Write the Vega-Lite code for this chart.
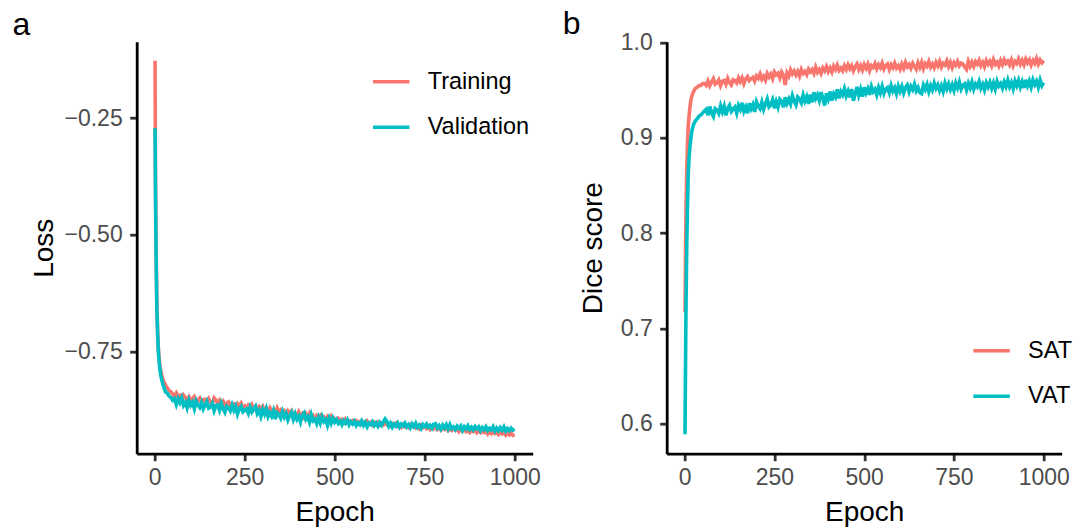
{
"$schema": "https://vega.github.io/schema/vega-lite/v6.json",
"padding": {"left": 11.7, "top": 7.7, "right": 0, "bottom": 0},
"bounds": "flush",
"spacing": 134,
"background": "white",
"config": {
 "view": {"stroke": null},
 "font": "Liberation Sans",
 "axis": {"grid": false, "domainColor": "#000000", "domainWidth": 2.8, "tickColor": "#333333", "tickWidth": 2.8, "tickSize": 7, "labelFont": "Liberation Sans", "labelFontSize": 23, "labelColor": "#4D4D4D", "titleFont": "Liberation Sans", "titleFontSize": 28, "titleFontWeight": "normal", "titleColor": "#000000", "labelFlush": false, "labelOverlap": false},
 "axisX": {"labelPadding": 6, "titleBaseline": "alphabetic", "titleAlign": "center"},
 "axisY": {"labelPadding": 7.5, "titleBaseline": "alphabetic", "titleAlign": "center", "titleAngle": -90},
 "line": {"strokeWidth": 3.6},
 "legend": {"labelFont": "Liberation Sans", "labelFontSize": 23.5, "labelColor": "#000000", "symbolType": "stroke", "symbolSize": 1332, "symbolStrokeWidth": 3.2, "labelOffset": 16, "rowPadding": 13.5, "padding": 0, "orient": "none"}
},
"data": {"values": [
{"e":1,"Training":-0.127,"Validation":-0.272,"SAT":0.717,"VAT":0.589},
{"e":2,"Training":-0.36,"Validation":-0.39,"SAT":0.76,"VAT":0.64},
{"e":3,"Training":-0.46,"Validation":-0.48,"SAT":0.80,"VAT":0.69},
{"e":4,"Training":-0.54,"Validation":-0.55,"SAT":0.83,"VAT":0.73},
{"e":5,"Training":-0.60,"Validation":-0.61,"SAT":0.85,"VAT":0.76},
{"e":6,"Training":-0.65,"Validation":-0.66,"SAT":0.868,"VAT":0.79},
{"e":8,"Training":-0.705,"Validation":-0.71,"SAT":0.895,"VAT":0.83},
{"e":10,"Training":-0.742,"Validation":-0.748,"SAT":0.912,"VAT":0.862},
{"e":12,"Training":-0.763,"Validation":-0.770,"SAT":0.922,"VAT":0.878},
{"e":15,"Training":-0.783,"Validation":-0.792,"SAT":0.933,"VAT":0.892},
{"e":18,"Training":-0.796,"Validation":-0.806,"SAT":0.941,"VAT":0.902},
{"e":21,"Training":-0.806,"Validation":-0.816,"SAT":0.945,"VAT":0.909},
{"e":25,"Training":-0.815,"Validation":-0.826,"SAT":0.949,"VAT":0.914},
{"e":30,"Training":-0.822,"Validation":-0.837,"SAT":0.952,"VAT":0.918},
{"e":35,"Training":-0.829,"Validation":-0.840,"SAT":0.953,"VAT":0.920},
{"e":40,"Training":-0.834,"Validation":-0.846,"SAT":0.955,"VAT":0.923},
{"e":45,"Training":-0.837,"Validation":-0.849,"SAT":0.955,"VAT":0.924},
{"e":50,"Training":-0.841,"Validation":-0.855,"SAT":0.957,"VAT":0.926},
{"e":55,"Training":-0.848,"Validation":-0.8515,"SAT":0.957,"VAT":0.9283},
{"e":60,"Training":-0.8398,"Validation":-0.864,"SAT":0.955,"VAT":0.930},
{"e":65,"Training":-0.8473,"Validation":-0.852,"SAT":0.9597,"VAT":0.9237},
{"e":70,"Training":-0.8446,"Validation":-0.860,"SAT":0.9547,"VAT":0.9329},
{"e":75,"Training":-0.8534,"Validation":-0.850,"SAT":0.9585,"VAT":0.9266},
{"e":80,"Training":-0.8442,"Validation":-0.866,"SAT":0.962,"VAT":0.9226},
{"e":85,"Training":-0.8498,"Validation":-0.8598,"SAT":0.9564,"VAT":0.9307},
{"e":90,"Training":-0.8535,"Validation":-0.8715,"SAT":0.9576,"VAT":0.9291},
{"e":95,"Training":-0.8477,"Validation":-0.8553,"SAT":0.9608,"VAT":0.9258},
{"e":100,"Training":-0.8562,"Validation":-0.866,"SAT":0.9548,"VAT":0.9338},
{"e":105,"Training":-0.8513,"Validation":-0.8595,"SAT":0.9594,"VAT":0.9274},
{"e":110,"Training":-0.847,"Validation":-0.873,"SAT":0.9604,"VAT":0.933},
{"e":115,"Training":-0.8559,"Validation":-0.8565,"SAT":0.9562,"VAT":0.9236},
{"e":120,"Training":-0.8546,"Validation":-0.865,"SAT":0.9624,"VAT":0.931},
{"e":125,"Training":-0.8503,"Validation":-0.8705,"SAT":0.9582,"VAT":0.9342},
{"e":130,"Training":-0.8598,"Validation":-0.860,"SAT":0.9556,"VAT":0.9278},
{"e":135,"Training":-0.8537,"Validation":-0.8735,"SAT":0.961,"VAT":0.9304},
{"e":140,"Training":-0.853,"Validation":-0.865,"SAT":0.960,"VAT":0.9324},
{"e":145,"Training":-0.8601,"Validation":-0.8575,"SAT":0.9578,"VAT":0.926},
{"e":150,"Training":-0.8516,"Validation":-0.872,"SAT":0.9632,"VAT":0.934},
{"e":155,"Training":-0.8587,"Validation":-0.8694,"SAT":0.9591,"VAT":0.930},
{"e":160,"Training":-0.8634,"Validation":-0.8618,"SAT":0.963,"VAT":0.9368},
{"e":165,"Training":-0.850,"Validation":-0.8772,"SAT":0.9569,"VAT":0.928},
{"e":170,"Training":-0.8544,"Validation":-0.8666,"SAT":0.962,"VAT":0.9324},
{"e":175,"Training":-0.8625,"Validation":-0.865,"SAT":0.9643,"VAT":0.926},
{"e":180,"Training":-0.8552,"Validation":-0.8764,"SAT":0.9602,"VAT":0.9364},
{"e":185,"Training":-0.8623,"Validation":-0.8618,"SAT":0.9621,"VAT":0.9306},
{"e":190,"Training":-0.8574,"Validation":-0.8732,"SAT":0.9636,"VAT":0.935},
{"e":195,"Training":-0.8675,"Validation":-0.8806,"SAT":0.9595,"VAT":0.9274},
{"e":200,"Training":-0.8608,"Validation":-0.868,"SAT":0.965,"VAT":0.9378},
{"e":205,"Training":-0.8584,"Validation":-0.8714,"SAT":0.9625,"VAT":0.9333},
{"e":210,"Training":-0.8656,"Validation":-0.8778,"SAT":0.9672,"VAT":0.9306},
{"e":215,"Training":-0.8638,"Validation":-0.8652,"SAT":0.9615,"VAT":0.9375},
{"e":220,"Training":-0.8626,"Validation":-0.8766,"SAT":0.9646,"VAT":0.930},
{"e":225,"Training":-0.8698,"Validation":-0.868,"SAT":0.9605,"VAT":0.9357},
{"e":230,"Training":-0.8626,"Validation":-0.8844,"SAT":0.9676,"VAT":0.9408},
{"e":235,"Training":-0.8674,"Validation":-0.8728,"SAT":0.9639,"VAT":0.9327},
{"e":240,"Training":-0.8614,"Validation":-0.8682,"SAT":0.967,"VAT":0.9348},
{"e":245,"Training":-0.871,"Validation":-0.8796,"SAT":0.9621,"VAT":0.9399},
{"e":250,"Training":-0.8674,"Validation":-0.876,"SAT":0.9692,"VAT":0.9312},
{"e":255,"Training":-0.8745,"Validation":-0.8735,"SAT":0.9662,"VAT":0.9381},
{"e":260,"Training":-0.866,"Validation":-0.883,"SAT":0.968,"VAT":0.9324},
{"e":265,"Training":-0.8707,"Validation":-0.8695,"SAT":0.963,"VAT":0.9405},
{"e":270,"Training":-0.8646,"Validation":-0.880,"SAT":0.9692,"VAT":0.9384},
{"e":275,"Training":-0.8747,"Validation":-0.8735,"SAT":0.9658,"VAT":0.9321},
{"e":280,"Training":-0.8692,"Validation":-0.868,"SAT":0.9555,"VAT":0.9426},
{"e":285,"Training":-0.8745,"Validation":-0.8835,"SAT":0.9682,"VAT":0.9363},
{"e":290,"Training":-0.8684,"Validation":-0.877,"SAT":0.9648,"VAT":0.9408},
{"e":295,"Training":-0.8731,"Validation":-0.8895,"SAT":0.9714,"VAT":0.9357},
{"e":300,"Training":-0.8682,"Validation":-0.875,"SAT":0.9672,"VAT":0.9444},
{"e":305,"Training":-0.879,"Validation":-0.8846,"SAT":0.9702,"VAT":0.9387},
{"e":310,"Training":-0.8718,"Validation":-0.8732,"SAT":0.966,"VAT":0.9348},
{"e":315,"Training":-0.8766,"Validation":-0.8898,"SAT":0.9698,"VAT":0.9429},
{"e":320,"Training":-0.8712,"Validation":-0.8814,"SAT":0.9648,"VAT":0.9408},
{"e":325,"Training":-0.8796,"Validation":-0.889,"SAT":0.9718,"VAT":0.9369},
{"e":330,"Training":-0.8754,"Validation":-0.8776,"SAT":0.9676,"VAT":0.945},
{"e":335,"Training":-0.882,"Validation":-0.8952,"SAT":0.9698,"VAT":0.9387},
{"e":340,"Training":-0.8718,"Validation":-0.8818,"SAT":0.9664,"VAT":0.9432},
{"e":345,"Training":-0.8808,"Validation":-0.8854,"SAT":0.9722,"VAT":0.9357},
{"e":350,"Training":-0.876,"Validation":-0.893,"SAT":0.9692,"VAT":0.9456},
{"e":355,"Training":-0.8832,"Validation":-0.8795,"SAT":0.9718,"VAT":0.9374},
{"e":360,"Training":-0.8784,"Validation":-0.891,"SAT":0.9676,"VAT":0.9478},
{"e":365,"Training":-0.8862,"Validation":-0.8835,"SAT":0.9742,"VAT":0.9414},
{"e":370,"Training":-0.8778,"Validation":-0.897,"SAT":0.9688,"VAT":0.9452},
{"e":375,"Training":-0.8832,"Validation":-0.8875,"SAT":0.9718,"VAT":0.9394},
{"e":380,"Training":-0.8778,"Validation":-0.881,"SAT":0.9676,"VAT":0.948},
{"e":385,"Training":-0.8862,"Validation":-0.8955,"SAT":0.9734,"VAT":0.9416},
{"e":390,"Training":-0.8832,"Validation":-0.884,"SAT":0.9704,"VAT":0.934},
{"e":395,"Training":-0.8886,"Validation":-0.8955,"SAT":0.975,"VAT":0.9468},
{"e":400,"Training":-0.8796,"Validation":-0.889,"SAT":0.9696,"VAT":0.941},
{"e":405,"Training":-0.888,"Validation":-0.9015,"SAT":0.9734,"VAT":0.9485},
{"e":410,"Training":-0.8838,"Validation":-0.887,"SAT":0.9691,"VAT":0.9392},
{"e":415,"Training":-0.8916,"Validation":-0.882,"SAT":0.9753,"VAT":0.9461},
{"e":420,"Training":-0.8838,"Validation":-0.896,"SAT":0.9718,"VAT":0.9428},
{"e":425,"Training":-0.8898,"Validation":-0.8905,"SAT":0.9764,"VAT":0.9509},
{"e":430,"Training":-0.8826,"Validation":-0.902,"SAT":0.9709,"VAT":0.9416},
{"e":435,"Training":-0.8928,"Validation":-0.8865,"SAT":0.9735,"VAT":0.9485},
{"e":440,"Training":-0.8886,"Validation":-0.899,"SAT":0.9704,"VAT":0.9452},
{"e":445,"Training":-0.8958,"Validation":-0.8955,"SAT":0.9758,"VAT":0.9515},
{"e":450,"Training":-0.888,"Validation":-0.905,"SAT":0.9719,"VAT":0.944},
{"e":455,"Training":-0.8927,"Validation":-0.8924,"SAT":0.9768,"VAT":0.949},
{"e":460,"Training":-0.8878,"Validation":-0.9038,"SAT":0.9725,"VAT":0.9426},
{"e":465,"Training":-0.8955,"Validation":-0.8902,"SAT":0.9758,"VAT":0.9512},
{"e":470,"Training":-0.8912,"Validation":-0.9006,"SAT":0.9703,"VAT":0.939},
{"e":475,"Training":-0.8983,"Validation":-0.896,"SAT":0.9748,"VAT":0.9462},
{"e":480,"Training":-0.8904,"Validation":-0.9084,"SAT":0.9777,"VAT":0.9536},
{"e":485,"Training":-0.8963,"Validation":-0.8938,"SAT":0.9718,"VAT":0.9448},
{"e":490,"Training":-0.8896,"Validation":-0.9042,"SAT":0.9759,"VAT":0.951},
{"e":495,"Training":-0.8997,"Validation":-0.8936,"SAT":0.9712,"VAT":0.9434},
{"e":500,"Training":-0.8948,"Validation":-0.902,"SAT":0.9769,"VAT":0.9532},
{"e":505,"Training":-0.8989,"Validation":-0.8965,"SAT":0.973,"VAT":0.9471},
{"e":510,"Training":-0.8938,"Validation":-0.9046,"SAT":0.9774,"VAT":0.9517},
{"e":515,"Training":-0.8987,"Validation":-0.9001,"SAT":0.9707,"VAT":0.9453},
{"e":520,"Training":-0.896,"Validation":-0.9076,"SAT":0.9759,"VAT":0.954},
{"e":525,"Training":-0.9021,"Validation":-0.8989,"SAT":0.974,"VAT":0.9485},
{"e":530,"Training":-0.8954,"Validation":-0.904,"SAT":0.978,"VAT":0.9511},
{"e":535,"Training":-0.9011,"Validation":-0.8971,"SAT":0.9725,"VAT":0.9452},
{"e":540,"Training":-0.8988,"Validation":-0.9076,"SAT":0.9769,"VAT":0.9528},
{"e":545,"Training":-0.9033,"Validation":-0.9013,"SAT":0.9738,"VAT":0.9474},
{"e":550,"Training":-0.8986,"Validation":-0.9058,"SAT":0.9786,"VAT":0.954},
{"e":555,"Training":-0.9021,"Validation":-0.900,"SAT":0.9723,"VAT":0.9466},
{"e":560,"Training":-0.8988,"Validation":-0.9092,"SAT":0.9759,"VAT":0.9512},
{"e":565,"Training":-0.9039,"Validation":-0.9034,"SAT":0.9776,"VAT":0.9528},
{"e":570,"Training":-0.9006,"Validation":-0.9072,"SAT":0.972,"VAT":0.9474},
{"e":575,"Training":-0.9057,"Validation":-0.8996,"SAT":0.9769,"VAT":0.955},
{"e":580,"Training":-0.902,"Validation":-0.9088,"SAT":0.9737,"VAT":0.9491},
{"e":585,"Training":-0.9055,"Validation":-0.9024,"SAT":0.9786,"VAT":0.9527},
{"e":590,"Training":-0.8998,"Validation":-0.9116,"SAT":0.9734,"VAT":0.9463},
{"e":595,"Training":-0.9049,"Validation":-0.904,"SAT":0.9759,"VAT":0.9544},
{"e":600,"Training":-0.902,"Validation":-0.9072,"SAT":0.9719,"VAT":0.949},
{"e":605,"Training":-0.9079,"Validation":-0.9013,"SAT":0.9776,"VAT":0.9541},
{"e":610,"Training":-0.9022,"Validation":-0.9092,"SAT":0.9732,"VAT":0.9472},
{"e":615,"Training":-0.9065,"Validation":-0.9039,"SAT":0.9793,"VAT":0.9528},
{"e":620,"Training":-0.902,"Validation":-0.9106,"SAT":0.9745,"VAT":0.9554},
{"e":625,"Training":-0.9083,"Validation":-0.9029,"SAT":0.977,"VAT":0.9485},
{"e":630,"Training":-0.9046,"Validation":-0.9084,"SAT":0.973,"VAT":0.9541},
{"e":635,"Training":-0.9081,"Validation":-0.9013,"SAT":0.9783,"VAT":0.9507},
{"e":640,"Training":-0.9036,"Validation":-0.895,"SAT":0.9751,"VAT":0.9563},
{"e":645,"Training":-0.9075,"Validation":-0.900,"SAT":0.972,"VAT":0.9494},
{"e":650,"Training":-0.9054,"Validation":-0.9106,"SAT":0.9788,"VAT":0.953},
{"e":655,"Training":-0.9105,"Validation":-0.9042,"SAT":0.9741,"VAT":0.9476},
{"e":660,"Training":-0.9056,"Validation":-0.9128,"SAT":0.9794,"VAT":0.9465},
{"e":665,"Training":-0.9091,"Validation":-0.9064,"SAT":0.9727,"VAT":0.9553},
{"e":670,"Training":-0.9046,"Validation":-0.9102,"SAT":0.978,"VAT":0.9509},
{"e":675,"Training":-0.9109,"Validation":-0.9038,"SAT":0.9753,"VAT":0.956},
{"e":680,"Training":-0.908,"Validation":-0.9124,"SAT":0.9802,"VAT":0.9486},
{"e":685,"Training":-0.9127,"Validation":-0.906,"SAT":0.9743,"VAT":0.9547},
{"e":690,"Training":-0.907,"Validation":-0.9098,"SAT":0.9776,"VAT":0.9503},
{"e":695,"Training":-0.9113,"Validation":-0.904,"SAT":0.9737,"VAT":0.9574},
{"e":700,"Training":-0.9088,"Validation":-0.912,"SAT":0.9794,"VAT":0.952},
{"e":705,"Training":-0.9131,"Validation":-0.9073,"SAT":0.9755,"VAT":0.9556},
{"e":710,"Training":-0.9074,"Validation":-0.914,"SAT":0.9803,"VAT":0.9497},
{"e":715,"Training":-0.9117,"Validation":-0.9057,"SAT":0.9744,"VAT":0.9548},
{"e":720,"Training":-0.9092,"Validation":-0.9112,"SAT":0.9784,"VAT":0.9489},
{"e":725,"Training":-0.9139,"Validation":-0.9041,"SAT":0.9765,"VAT":0.9575},
{"e":730,"Training":-0.9102,"Validation":-0.9132,"SAT":0.9809,"VAT":0.9516},
{"e":735,"Training":-0.9153,"Validation":-0.9085,"SAT":0.975,"VAT":0.9567},
{"e":740,"Training":-0.9088,"Validation":-0.9152,"SAT":0.9794,"VAT":0.9508},
{"e":745,"Training":-0.9139,"Validation":-0.9069,"SAT":0.9739,"VAT":0.9559},
{"e":750,"Training":-0.9106,"Validation":-0.9112,"SAT":0.9791,"VAT":0.950},
{"e":755,"Training":-0.9153,"Validation":-0.906,"SAT":0.9764,"VAT":0.9576},
{"e":760,"Training":-0.9108,"Validation":-0.9128,"SAT":0.9804,"VAT":0.9526},
{"e":765,"Training":-0.9175,"Validation":-0.9088,"SAT":0.9757,"VAT":0.9587},
{"e":770,"Training":-0.913,"Validation":-0.915,"SAT":0.9785,"VAT":0.9512},
{"e":775,"Training":-0.9161,"Validation":-0.9062,"SAT":0.9774,"VAT":0.9553},
{"e":780,"Training":-0.9116,"Validation":-0.905,"SAT":0.9745,"VAT":0.9568},
{"e":785,"Training":-0.9175,"Validation":-0.9144,"SAT":0.972,"VAT":0.9504},
{"e":790,"Training":-0.9146,"Validation":-0.9092,"SAT":0.9803,"VAT":0.9574},
{"e":795,"Training":-0.9189,"Validation":-0.9166,"SAT":0.9752,"VAT":0.9525},
{"e":800,"Training":-0.914,"Validation":-0.9084,"SAT":0.9796,"VAT":0.9585},
{"e":805,"Training":-0.9171,"Validation":-0.914,"SAT":0.9749,"VAT":0.9511},
{"e":810,"Training":-0.913,"Validation":-0.907,"SAT":0.9801,"VAT":0.9566},
{"e":815,"Training":-0.9197,"Validation":-0.9162,"SAT":0.9774,"VAT":0.9537},
{"e":820,"Training":-0.9156,"Validation":-0.9068,"SAT":0.9814,"VAT":0.9592},
{"e":825,"Training":-0.9195,"Validation":-0.9154,"SAT":0.9759,"VAT":0.9522},
{"e":830,"Training":-0.915,"Validation":-0.912,"SAT":0.9795,"VAT":0.9563},
{"e":835,"Training":-0.9193,"Validation":-0.9176,"SAT":0.9748,"VAT":0.9504},
{"e":840,"Training":-0.916,"Validation":-0.9106,"SAT":0.9812,"VAT":0.9579},
{"e":845,"Training":-0.9223,"Validation":-0.915,"SAT":0.9773,"VAT":0.9535},
{"e":850,"Training":-0.9178,"Validation":-0.9098,"SAT":0.9805,"VAT":0.9585},
{"e":855,"Training":-0.9209,"Validation":-0.9195,"SAT":0.9758,"VAT":0.9521},
{"e":860,"Training":-0.9164,"Validation":-0.9118,"SAT":0.9822,"VAT":0.9577},
{"e":865,"Training":-0.9223,"Validation":-0.9161,"SAT":0.9771,"VAT":0.9513},
{"e":870,"Training":-0.9194,"Validation":-0.9096,"SAT":0.9795,"VAT":0.9594},
{"e":875,"Training":-0.9237,"Validation":-0.9175,"SAT":0.9756,"VAT":0.9545},
{"e":880,"Training":-0.9184,"Validation":-0.9128,"SAT":0.9812,"VAT":0.9571},
{"e":885,"Training":-0.9219,"Validation":-0.9183,"SAT":0.9769,"VAT":0.9522},
{"e":890,"Training":-0.9186,"Validation":-0.9112,"SAT":0.9821,"VAT":0.9588},
{"e":895,"Training":-0.9245,"Validation":-0.9161,"SAT":0.9782,"VAT":0.9539},
{"e":900,"Training":-0.9204,"Validation":-0.912,"SAT":0.9806,"VAT":0.9605},
{"e":905,"Training":-0.9243,"Validation":-0.920,"SAT":0.9767,"VAT":0.9536},
{"e":910,"Training":-0.9194,"Validation":-0.9136,"SAT":0.9819,"VAT":0.9581},
{"e":915,"Training":-0.9241,"Validation":-0.918,"SAT":0.9756,"VAT":0.9517},
{"e":920,"Training":-0.9212,"Validation":-0.9116,"SAT":0.9804,"VAT":0.9597},
{"e":925,"Training":-0.9271,"Validation":-0.9196,"SAT":0.9781,"VAT":0.9548},
{"e":930,"Training":-0.9226,"Validation":-0.915,"SAT":0.9829,"VAT":0.9603},
{"e":935,"Training":-0.9265,"Validation":-0.9182,"SAT":0.9774,"VAT":0.9534},
{"e":940,"Training":-0.922,"Validation":-0.9118,"SAT":0.9814,"VAT":0.9589},
{"e":945,"Training":-0.9263,"Validation":-0.921,"SAT":0.9767,"VAT":0.9525},
{"e":950,"Training":-0.9242,"Validation":-0.9146,"SAT":0.9827,"VAT":0.961},
{"e":955,"Training":-0.9281,"Validation":-0.9201,"SAT":0.9788,"VAT":0.9546},
{"e":960,"Training":-0.9228,"Validation":-0.9136,"SAT":0.982,"VAT":0.9597},
{"e":965,"Training":-0.9271,"Validation":-0.9191,"SAT":0.9765,"VAT":0.9533},
{"e":970,"Training":-0.9242,"Validation":-0.912,"SAT":0.9813,"VAT":0.9609},
{"e":975,"Training":-0.9297,"Validation":-0.9211,"SAT":0.9782,"VAT":0.956},
{"e":980,"Training":-0.9252,"Validation":-0.9158,"SAT":0.9834,"VAT":0.9596},
{"e":985,"Training":-0.9291,"Validation":-0.9201,"SAT":0.9775,"VAT":0.9532},
{"e":990,"Training":-0.925,"Validation":-0.9148,"SAT":0.9819,"VAT":0.9608},
{"e":995,"Training":-0.9301,"Validation":-0.9191,"SAT":0.9788,"VAT":0.9549},
{"e":1000,"Training":-0.9292,"Validation":-0.9174,"SAT":0.9812,"VAT":0.958}
]},
"resolve": {"scale": {"color": "independent", "x": "independent", "y": "independent"}, "legend": {"color": "independent"}},
"hconcat": [
 {
  "width": 396, "height": 412,
  "title": {"text": "a", "anchor": "start", "frame": "group", "orient": "top", "dx": -124.3, "offset": -25.7, "baseline": "alphabetic", "fontSize": 32, "font": "Liberation Sans", "fontWeight": "normal", "color": "#000000"},
  "transform": [{"fold": ["Training", "Validation"], "as": ["series", "loss"]}],
  "mark": {"type": "line", "strokeWidth": 3.6},
  "encoding": {
   "x": {"field": "e", "type": "quantitative", "scale": {"domain": [-50, 1050], "nice": false, "zero": false}, "axis": {"values": [0, 250, 500, 750, 1000], "format": "d", "title": "Epoch", "titleX": 198, "titleY": 66.7}},
   "y": {"field": "loss", "type": "quantitative", "scale": {"domain": [-0.9695, -0.0863], "nice": false, "zero": false}, "axis": {"values": [-0.75, -0.5, -0.25], "format": ".2f", "title": "Loss", "titleX": -84.3, "titleY": 206}},
   "color": {"field": "series", "type": "nominal", "scale": {"domain": ["Training", "Validation"], "range": ["#F8766D", "#00BFC4"]}, "legend": {"title": null, "orient": "none", "legendX": 234, "legendY": 19.6}}
  }
 },
 {
  "width": 395, "height": 412,
  "title": {"text": "b", "anchor": "start", "frame": "group", "orient": "top", "dx": -104, "offset": -34.55, "baseline": "alphabetic", "fontSize": 32, "font": "Liberation Sans", "fontWeight": "normal", "color": "#000000"},
  "transform": [{"fold": ["SAT", "VAT"], "as": ["series", "dice"]}],
  "mark": {"type": "line", "strokeWidth": 3.6},
  "encoding": {
   "x": {"field": "e", "type": "quantitative", "scale": {"domain": [-50, 1050], "nice": false, "zero": false}, "axis": {"values": [0, 250, 500, 750, 1000], "format": "d", "title": "Epoch", "titleX": 197.5, "titleY": 66.7}},
   "y": {"field": "dice", "type": "quantitative", "scale": {"domain": [0.5685, 1.001], "nice": false, "zero": false}, "axis": {"values": [0.6, 0.7, 0.8, 0.9, 1.0], "format": ".1f", "title": "Dice score", "titleX": -64.7, "titleY": 206}},
   "color": {"field": "series", "type": "nominal", "scale": {"domain": ["SAT", "VAT"], "range": ["#F8766D", "#00BFC4"]}, "legend": {"title": null, "orient": "none", "legendX": 304.4, "legendY": 288.5}}
  }
 }
]
}
